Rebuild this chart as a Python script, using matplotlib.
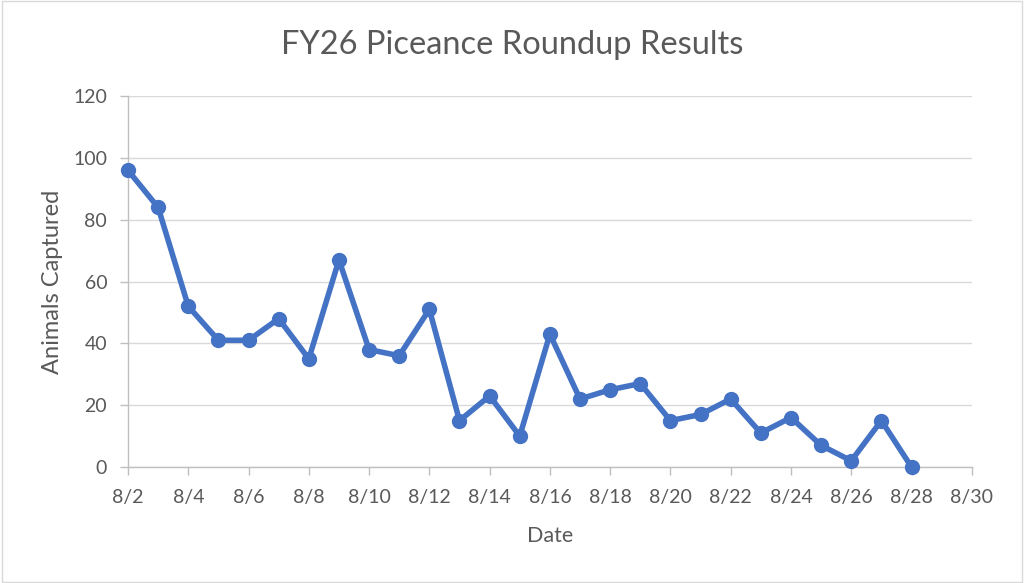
import matplotlib
matplotlib.use("Agg")
import matplotlib.pyplot as plt
from matplotlib.patches import Rectangle

days = list(range(2, 29))
captured = [96, 84, 52, 41, 41, 48, 35, 67, 38, 36, 51, 15, 23, 10, 43, 22, 25, 27,
            15, 17, 22, 11, 16, 7, 2, 15, 0]
tick_days = list(range(2, 31, 2))
tick_labels = [f"8/{d}" for d in tick_days]
y_ticks = [0, 20, 40, 60, 80, 100, 120]

plt.rcParams['font.family'] = ['Lato', 'DejaVu Sans']
text_col = '#595959'

fig = plt.figure(figsize=(10.24, 5.83), dpi=100)
ax = fig.add_axes([0.125, 0.199, 0.824, 0.636])

ax.plot(days, captured, color='#4472C4', linewidth=4, marker='o', markersize=10,
        zorder=3, clip_on=False)

ax.set_xlim(2, 30)
ax.set_ylim(0, 120)
ax.set_xticks(tick_days)
ax.set_xticklabels(tick_labels)
ax.set_yticks(y_ticks)
ax.grid(axis='y', color='#d9d9d9', linewidth=1)
ax.set_axisbelow(True)
for s in ['top', 'right']:
    ax.spines[s].set_visible(False)
for s in ['left', 'bottom']:
    ax.spines[s].set_color('#bfbfbf')
    ax.spines[s].set_linewidth(1)
ax.tick_params(axis='both', colors='#bfbfbf', labelcolor=text_col, labelsize=14,
               length=6, width=1)
ax.tick_params(axis='x', pad=10)
ax.tick_params(axis='y', pad=9)

ax.set_xlabel('Date', color=text_col, fontsize=15.5, labelpad=14)
ax.set_ylabel('Animals Captured', color=text_col, fontsize=17, labelpad=7)
fig.text(0.5, 0.922, 'FY26 Piceance Roundup Results', ha='center', va='center',
         color=text_col, fontsize=23.5)

fig.patches.append(Rectangle((0.002, 0.002), 0.996, 0.996, transform=fig.transFigure,
                             fill=False, edgecolor='#d9d9d9', linewidth=1))

fig.savefig('out.png', dpi=100)
